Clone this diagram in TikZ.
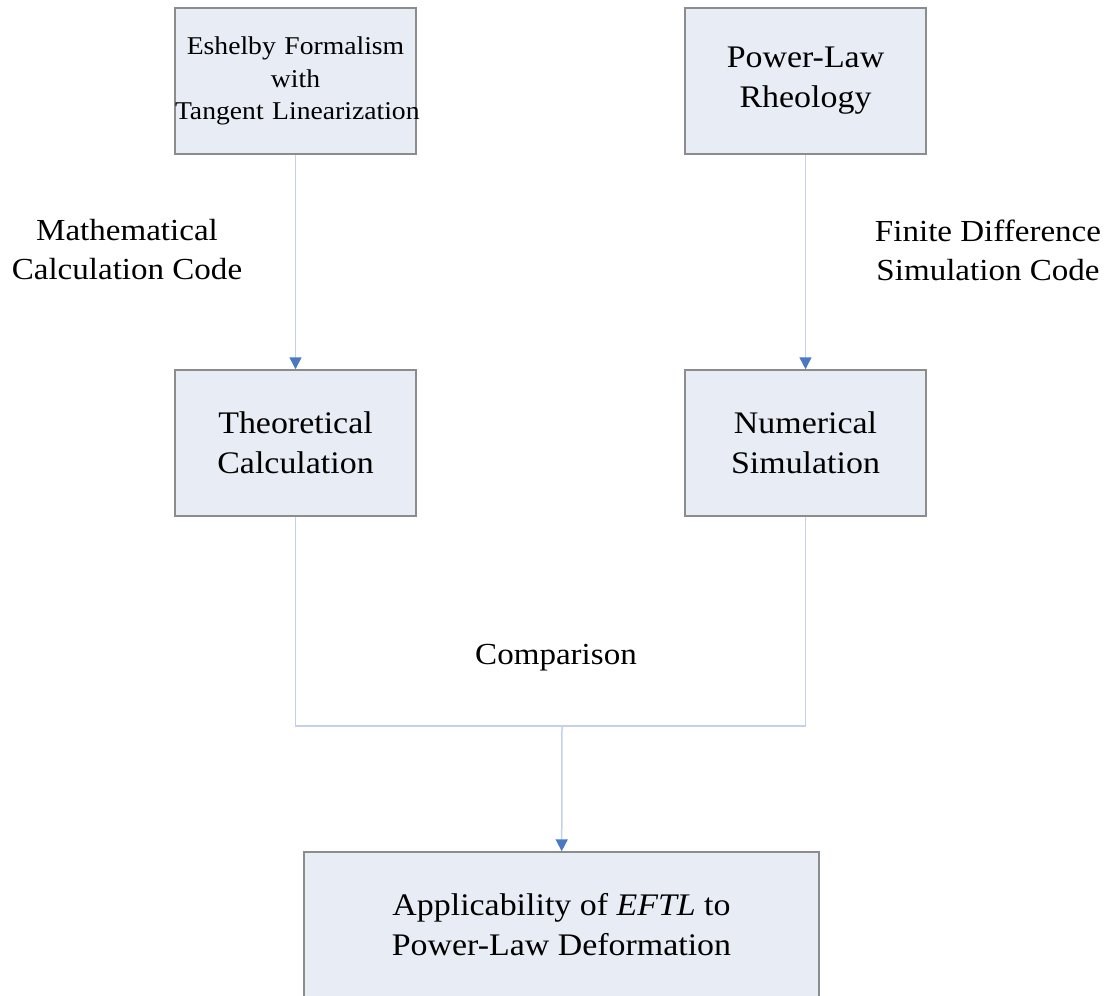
\documentclass[tikz,border=0pt]{standalone}
\usepackage{fontspec}
\setmainfont[FakeStretch=1.08]{Liberation Serif}
\usetikzlibrary{arrows.meta}
\definecolor{boxfill}{HTML}{E8ECF5}
\definecolor{boxline}{HTML}{8C8C8C}
\definecolor{connline}{HTML}{C4D1E8}
\definecolor{tipblue}{HTML}{4A78C2}

\begin{document}
\begin{tikzpicture}[x=0.5pt,y=-0.5pt,
  box/.style={draw=boxline,fill=boxfill,line width=0.75pt,minimum width=120.5pt,minimum height=73pt,align=center,inner sep=0pt,font=\fontsize{15.7}{20}\selectfont},
  lbl/.style={align=center,inner sep=0pt,font=\fontsize{15.3}{19.5}\selectfont},
  conn/.style={draw=connline,line width=0.75pt},
  arr/.style={conn,-{Triangle[width=6pt,length=6pt,color=tipblue]}}]
\useasboundingbox (0,0) rectangle (1117,995);
\node[box,text width=120.5pt,font=\fontsize{12.8}{16.3}\selectfont] (eshelby) at (295.5,81) {\mbox{Eshelby Formalism}\\with\\\mbox{Tangent Linearization}};
\node[box] (powerlaw) at (805.5,81) {Power-Law\\Rheology};
\node[box] (theory) at (295.5,443) {Theoretical\\Calculation};
\node[box] (numsim) at (805.5,443) {Numerical\\Simulation};
\node[box,minimum width=257.5pt,minimum height=72.5pt] (applic) at (561.5,924.5) {Applicability of \textit{EFTL} to\\Power-Law Deformation};
\node[lbl] (mathlbl) at (127,250) {Mathematical\\Calculation Code};
\node[lbl] (fdlbl) at (988,250) {Finite Difference\\Simulation Code};
\node[lbl] (cmplbl) at (556,658) {Comparison};
\coordinate (join) at (562,726);
\draw[arr] (eshelby) -- (theory);
\draw[arr] (powerlaw) -- (numsim);
\draw[conn] (theory.south) |- (join) -| (numsim.south);
\draw[arr] (join) -- (applic);
\end{tikzpicture}
\end{document}
